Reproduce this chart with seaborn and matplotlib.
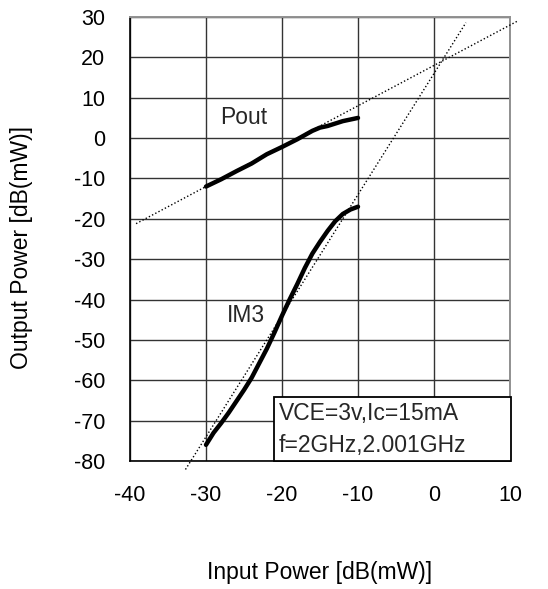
import matplotlib
matplotlib.use("Agg")
import matplotlib.pyplot as plt
from matplotlib.patches import Rectangle
import seaborn as sns
import numpy as np
import pandas as pd

# Data
pout_x = [-30, -28, -26, -24, -22, -20, -18, -16, -15, -14, -12, -10]
pout_y = [-12.0, -10.2, -8.2, -6.3, -4.0, -2.2, -0.3, 1.8, 2.6, 3.0, 4.2, 5.0]

im3_x = [-30, -29, -28, -27, -26, -25, -24, -23, -22, -21, -20, -19, -18, -17, -16, -15, -14, -13, -12, -11, -10]
im3_y = [-76.0, -73.0, -70.6, -68.0, -65.2, -62.4, -59.4, -55.8, -52.2, -48.2, -44.0, -40.0, -36.2, -32.2, -28.6, -25.7, -23.0, -20.6, -18.8, -17.7, -17.0]

# extrapolated asymptote lines (endpoints)
pout_ext_x = [-39.2, 10.9]
pout_ext_y = [-21.2, 28.9]
im3_ext_x = [-32.7, 4.2]
im3_ext_y = [-82.1, 28.6]

xticks = [-40, -30, -20, -10, 0, 10]
yticks = [30, 20, 10, 0, -10, -20, -30, -40, -50, -60, -70, -80]

xlabel = "Input Power [dB(mW)]"
ylabel = "Output Power [dB(mW)]"
note_lines = ["VCE=3v,Ic=15mA", "f=2GHz,2.001GHz"]

sns.set_theme(style="white")
plt.rcParams['font.family'] = ['Liberation Sans', 'DejaVu Sans']
plt.rcParams['axes.unicode_minus'] = False

fig = plt.figure(figsize=(5.48, 5.89), dpi=100)
ax = fig.add_axes([130/548, 1-461/589, 380/548, 444/589])

df_p = pd.DataFrame({"x": pout_x, "y": pout_y})
df_i = pd.DataFrame({"x": im3_x, "y": im3_y})
df_pe = pd.DataFrame({"x": pout_ext_x, "y": pout_ext_y})
df_ie = pd.DataFrame({"x": im3_ext_x, "y": im3_ext_y})

for d in (df_pe, df_ie):
    sns.lineplot(data=d, x="x", y="y", ax=ax, color="black", lw=1.0,
                 linestyle=(0, (1, 1.6)), clip_on=False, zorder=3)
for d in (df_p, df_i):
    sns.lineplot(data=d, x="x", y="y", ax=ax, color="black", lw=3.2,
                 clip_on=False, zorder=4, solid_capstyle="round")

ax.set_xlim(-40, 10)
ax.set_ylim(-80, 30)
ax.set_xticks(xticks)
ax.set_yticks(yticks)
ax.tick_params(axis="both", length=0, labelsize=15.5, colors="black")
ax.tick_params(axis="x", pad=17)
ax.tick_params(axis="y", pad=18)
ax.grid(True, color="#333333", lw=1.0)
ax.set_axisbelow(True)
for s in ("left", "bottom"):
    ax.spines[s].set_color("black")
    ax.spines[s].set_linewidth(1.2)
for s in ("top", "right"):
    ax.spines[s].set_color("#909090")
    ax.spines[s].set_linewidth(1.4)

ax.set_xlabel(xlabel, fontsize=16.5, color="black")
ax.set_ylabel(ylabel, fontsize=16.5, color="black")
ax.xaxis.set_label_coords(0.5, -0.226)
ax.yaxis.set_label_coords(-0.255, 0.48)

ax.text(-25.1, 5.0, "Pout", fontsize=16.5, ha="center", va="center")
ax.text(-24.8, -43.9, "IM3", fontsize=16.5, ha="center", va="center")

ax.add_patch(Rectangle((-21.05, -80), 31.15, 15.9, fc="white", ec="black",
                       lw=1.3, zorder=5, clip_on=False))
ax.text(-20.4, -72.2, "\n".join(note_lines), fontsize=16.5, ha="left", va="center",
        linespacing=1.55, zorder=6)

fig.savefig("out.png", dpi=100, facecolor="white")
